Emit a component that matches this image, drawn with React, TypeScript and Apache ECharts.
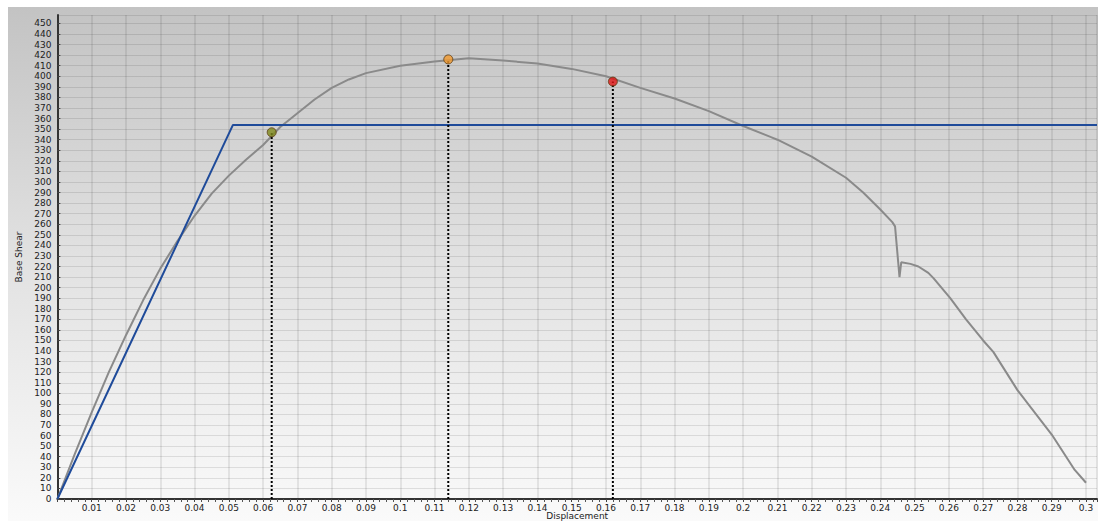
import React, { useEffect, useRef } from "react";
import * as echarts from "echarts";

const curveX = [0, 0.005, 0.01, 0.015, 0.02, 0.025, 0.03, 0.035, 0.04, 0.045, 0.05, 0.055, 0.06, 0.065, 0.07, 0.075, 0.08, 0.085, 0.09, 0.1, 0.11, 0.12, 0.13, 0.14, 0.15, 0.16, 0.17, 0.18, 0.19, 0.2, 0.21, 0.22, 0.23, 0.235, 0.24, 0.2435, 0.2443, 0.2456, 0.2461, 0.2488, 0.2511, 0.254, 0.2555, 0.2604, 0.265, 0.27, 0.273, 0.28, 0.29, 0.2967, 0.3];
const curveY = [0, 42, 82, 120, 155, 188, 218, 244, 268, 289, 306, 321, 335, 352, 365, 378, 389, 397, 403, 410, 414, 417, 415, 412, 407, 400, 389, 379, 367, 353, 340, 324, 304, 290, 274, 262, 258, 210, 224, 222.5, 220, 214, 209, 190, 170, 150, 139, 103, 61, 27.5, 15.4];

const bilinearX = [0, 0.0512, 0.3032];
const bilinearY = [0, 354, 354];

const pointX = [0.0625, 0.114, 0.162];
const pointY = [347, 416, 395];
const pointColors = ["#7f8a1c", "#f29a2e", "#e01414"];

const xTicks = { min: 0, max: 0.3032, interval: 0.01 };
const yTicks = { min: 0, max: 458, interval: 10 };

export default function App() {
  const ref = useRef<HTMLDivElement>(null);
  useEffect(() => {
    if (!ref.current) return;
    const chart = echarts.init(ref.current, undefined, { renderer: "svg" });
    const font = "DejaVu Sans";
    const series: any[] = [
      {
        type: "line",
        data: curveX.map((x, i) => [x, curveY[i]]),
        showSymbol: false,
        lineStyle: { color: "#8a8a8a", width: 2 },
        z: 3,
      },
      {
        type: "line",
        data: bilinearX.map((x, i) => [x, bilinearY[i]]),
        showSymbol: false,
        lineStyle: { color: "#1f4b9a", width: 2 },
        z: 4,
      },
    ];
    pointX.forEach((x, i) => {
      series.push({
        type: "line",
        data: [[x, 0], [x, pointY[i]]],
        showSymbol: false,
        lineStyle: { color: "#000", width: 2, type: [2, 2] },
        z: 5,
      });
    });
    series.push({
      type: "scatter",
      data: pointX.map((x, i) => ({
        value: [x, pointY[i]],
        itemStyle: { color: pointColors[i], borderColor: "#5a3a10", borderWidth: 1 },
      })),
      symbolSize: 9,
      z: 6,
    });
    chart.setOption({
      animation: false,
      backgroundColor: "transparent",
      textStyle: { fontFamily: font },
      grid: { left: 49.4, right: 1, top: 8, bottom: 22, containLabel: false, outerBoundsMode: "none" },
      xAxis: {
        type: "value",
        min: xTicks.min,
        max: xTicks.max,
        interval: xTicks.interval,
        name: "Displacement",
        nameLocation: "middle",
        nameGap: 12,
        nameMoveOverlap: false,
        nameTextStyle: { fontSize: 9, lineHeight: 9, color: "#222", fontFamily: font, verticalAlign: "top" },
        axisLine: { show: true, onZero: false, lineStyle: { color: "#333", width: 2 } },
        axisTick: { show: true, length: 3, lineStyle: { color: "#444" } },
        minorTick: { show: true, splitNumber: 5, length: 3, lineStyle: { color: "#555" } },
        axisLabel: {
          fontSize: 9,
          lineHeight: 9,
          color: "#222",
          margin: 4,
          showMaxLabel: false,
          formatter: (v: number) => (v === 0 ? "" : String(parseFloat(v.toFixed(2)))),
        },
        splitLine: { show: true, lineStyle: { color: "rgba(0,0,0,0.10)", width: 1.6 } },
      },
      yAxis: {
        type: "value",
        min: yTicks.min,
        max: yTicks.max,
        interval: yTicks.interval,
        name: "Base Shear",
        nameLocation: "middle",
        nameRotate: 90,
        nameGap: 31,
        nameTextStyle: { fontSize: 9, color: "#222", fontFamily: font },
        axisLine: { show: true, lineStyle: { color: "#333", width: 2 } },
        axisTick: { show: true, inside: true, length: 3, lineStyle: { color: "#444" } },
        axisLabel: {
          fontSize: 9,
          color: "#222",
          margin: 6,
          showMaxLabel: false,
        },
        splitLine: { show: true, lineStyle: { color: "rgba(0,0,0,0.10)", width: 1.2 } },
      },
      series,
    });
    return () => chart.dispose();
  }, []);
  return (
    <div
      style={{
        position: "fixed",
        left: 8,
        top: 7,
        width: 1090,
        height: 514,
        background: "linear-gradient(to bottom, #c3c3c3 0%, #e2e2e2 50%, #fafafa 100%)",
      }}
    >
      <div ref={ref} style={{ width: 1090, height: 514 }} />
    </div>
  );
}
